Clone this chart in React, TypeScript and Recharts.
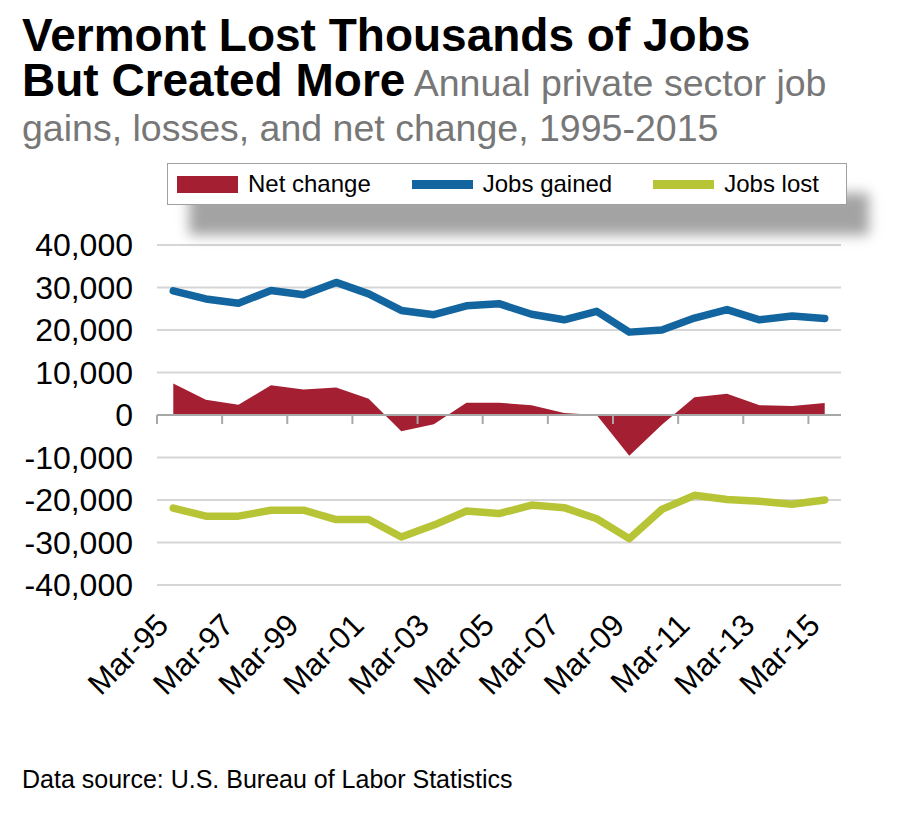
import React from 'react';
import {
  ComposedChart,
  Area,
  Line,
  XAxis,
  YAxis,
  CartesianGrid,
  ReferenceLine,
  Legend,
} from 'recharts';

const years = [
  'Mar-95', 'Mar-96', 'Mar-97', 'Mar-98', 'Mar-99', 'Mar-00', 'Mar-01',
  'Mar-02', 'Mar-03', 'Mar-04', 'Mar-05', 'Mar-06', 'Mar-07', 'Mar-08',
  'Mar-09', 'Mar-10', 'Mar-11', 'Mar-12', 'Mar-13', 'Mar-14', 'Mar-15',
];

const netChange = [
  7400, 3600, 2400, 7000, 6000, 6500, 3800, -3800, -2200, 2900, 2900,
  2300, 500, 0, -9600, -2300, 4200, 5000, 2300, 2100, 2800,
];

const jobsGained = [
  29200, 27300, 26300, 29300, 28300, 31200, 28500, 24600, 23600, 25700, 26200,
  23700, 22400, 24400, 19500, 20000, 22800, 24800, 22400, 23300, 22700,
];

const jobsLost = [
  -21900, -23800, -23800, -22400, -22400, -24600, -24600, -28700, -25900, -22600, -23200,
  -21200, -21800, -24400, -29100, -22200, -18900, -19900, -20300, -21000, -20000,
];

const yTicks = [-40000, -30000, -20000, -10000, 0, 10000, 20000, 30000, 40000];
const labelIdx = [0, 2, 4, 6, 8, 10, 12, 14, 16, 18, 20];

const NET_COLOR = '#a51f33';
const GAINED_COLOR = '#13659f';
const LOST_COLOR = '#b7c435';
const AXIS_GRAY = '#a8a8a8';

const data = years.map((label, i) => ({
  idx: i,
  label,
  net: netChange[i],
  gained: jobsGained[i],
  lost: jobsLost[i],
}));

// tick marks sit on the band edges, one every two years
const tickMarks = labelIdx.map((i) => i - 0.5);

const legendItems = [
  { name: 'Net change', color: NET_COLOR, box: true },
  { name: 'Jobs gained', color: GAINED_COLOR, box: false },
  { name: 'Jobs lost', color: LOST_COLOR, box: false },
];

function XTick({ x, y, payload }: any) {
  const ax = x - 3;
  const ay = y + 34;
  return (
    <text
      x={ax}
      y={ay}
      transform={`rotate(-45, ${ax}, ${ay})`}
      textAnchor="end"
      fontSize={31}
      fill="#000"
    >
      {years[payload.value]}
    </text>
  );
}

function LegendBox() {
  return (
    <div
      style={{
        display: 'flex',
        alignItems: 'center',
        height: 42,
        boxSizing: 'border-box',
        border: '1px solid #a0a0a0',
        background: '#fff',
        boxShadow: '22px 30px 12px rgba(0,0,0,0.36)',
        paddingLeft: 9,
        fontSize: 24,
        color: '#000',
        whiteSpace: 'nowrap',
      }}
    >
      {legendItems.map((it) => (
        <div key={it.name} style={{ display: 'flex', alignItems: 'center', marginRight: 41 }}>
          <span
            style={{
              display: 'inline-block',
              width: 61,
              height: it.box ? 17 : 9,
              background: it.color,
              marginRight: 10,
            }}
          />
          <span>{it.name}</span>
        </div>
      ))}
    </div>
  );
}

export default function App() {
  return (
    <div
      style={{
        position: 'absolute',
        left: 0,
        top: 0,
        width: 903,
        height: 832,
        background: '#fff',
        fontFamily: '"Liberation Sans", Arial, sans-serif',
        overflow: 'hidden',
      }}
    >
      <div style={{ position: 'absolute', left: 22, top: 13, lineHeight: '45px', whiteSpace: 'nowrap' }}>
        <div style={{ fontSize: 46, fontWeight: 700, color: '#000' }}>Vermont Lost Thousands of Jobs</div>
        <div>
          <span style={{ fontSize: 46, fontWeight: 700, color: '#000' }}>But Created More</span>
          <span style={{ fontSize: 37.5, color: '#777' }}> Annual private sector job</span>
        </div>
        <div style={{ fontSize: 37.5, color: '#777', marginTop: -7 }}>
          gains, losses, and net change, 1995-2015
        </div>
      </div>

      <ComposedChart
        width={903}
        height={832}
        data={data}
        margin={{ top: 245, right: 62, bottom: 147, left: 0 }}
      >
        <CartesianGrid vertical={false} stroke="#d6d6d6" strokeWidth={2} />
        <XAxis
          type="number"
          dataKey="idx"
          domain={[-0.5, 20.5]}
          ticks={labelIdx}
          interval={0}
          tick={<XTick />}
          axisLine={false}
          tickLine={false}
          height={100}
        />
        <YAxis
          domain={[-40000, 40000]}
          ticks={yTicks}
          interval={0}
          width={157}
          axisLine={false}
          tickLine={false}
          tickMargin={18}
          tick={{ fontSize: 32, fill: '#000' }}
          tickFormatter={(v) => Number(v).toLocaleString('en-US')}
        />
        <Area
          type="linear"
          dataKey="net"
          baseValue={0}
          stroke="none"
          fill={NET_COLOR}
          fillOpacity={1}
          isAnimationActive={false}
        />
        <ReferenceLine y={0} stroke={AXIS_GRAY} strokeWidth={2} />
        {tickMarks.map((t) => (
          <ReferenceLine
            key={t}
            segment={[{ x: t, y: 0 }, { x: t, y: -2100 }]}
            stroke={AXIS_GRAY}
            strokeWidth={2}
          />
        ))}
        <Line
          type="linear"
          dataKey="gained"
          stroke={GAINED_COLOR}
          strokeWidth={7.5}
          strokeLinejoin="round"
          strokeLinecap="round"
          dot={false}
          isAnimationActive={false}
        />
        <Line
          type="linear"
          dataKey="lost"
          stroke={LOST_COLOR}
          strokeWidth={7.5}
          strokeLinejoin="round"
          strokeLinecap="round"
          dot={false}
          isAnimationActive={false}
        />
        <Legend
          verticalAlign="middle"
          align="center"
          content={() => <LegendBox />}
          wrapperStyle={{ left: 167, top: 163, width: 680 }}
        />
      </ComposedChart>

      <div style={{ position: 'absolute', left: 22, top: 765, fontSize: 25, color: '#000' }}>
        Data source: U.S. Bureau of Labor Statistics
      </div>
    </div>
  );
}
